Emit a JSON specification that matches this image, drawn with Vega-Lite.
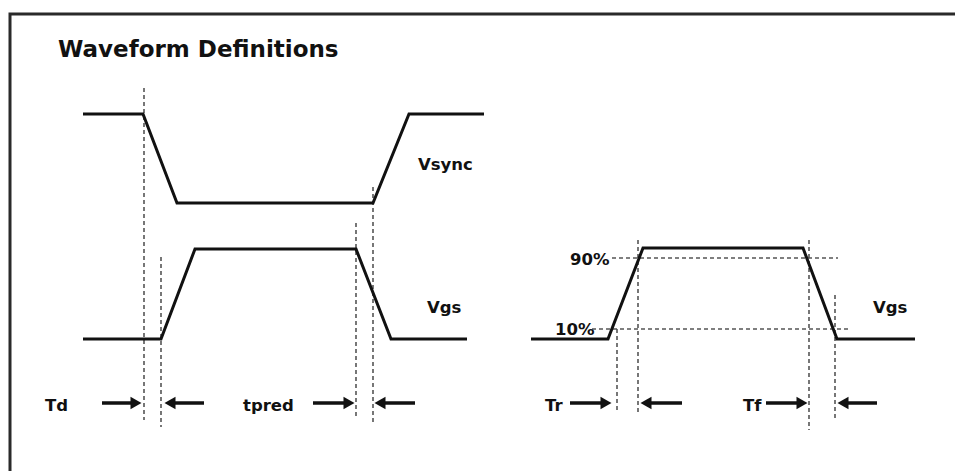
{
  "$schema": "https://vega.github.io/schema/vega-lite/v6.json",
  "width": 955,
  "height": 471,
  "autosize": {"type": "none"},
  "padding": 0,
  "background": "white",
  "config": {"view": {"stroke": null}},
  "datasets": {
    "border": [
      {"x": 10, "y": 475, "i": 0},
      {"x": 10, "y": 14, "i": 1},
      {"x": 960, "y": 14, "i": 2}
    ],
    "waves": [
      {"wave": "Vsync", "i": 0, "x": 83, "y": 114},
      {"wave": "Vsync", "i": 1, "x": 143, "y": 114},
      {"wave": "Vsync", "i": 2, "x": 177, "y": 203},
      {"wave": "Vsync", "i": 3, "x": 373, "y": 203},
      {"wave": "Vsync", "i": 4, "x": 409, "y": 114},
      {"wave": "Vsync", "i": 5, "x": 484, "y": 114},
      {"wave": "Vgs1", "i": 0, "x": 83, "y": 339},
      {"wave": "Vgs1", "i": 1, "x": 161, "y": 339},
      {"wave": "Vgs1", "i": 2, "x": 195, "y": 249},
      {"wave": "Vgs1", "i": 3, "x": 356, "y": 249},
      {"wave": "Vgs1", "i": 4, "x": 391, "y": 339},
      {"wave": "Vgs1", "i": 5, "x": 467, "y": 339},
      {"wave": "Vgs2", "i": 0, "x": 531, "y": 339},
      {"wave": "Vgs2", "i": 1, "x": 608, "y": 339},
      {"wave": "Vgs2", "i": 2, "x": 643, "y": 248},
      {"wave": "Vgs2", "i": 3, "x": 803, "y": 248},
      {"wave": "Vgs2", "i": 4, "x": 837, "y": 339},
      {"wave": "Vgs2", "i": 5, "x": 915, "y": 339}
    ],
    "dashes": [
      {"x": 144, "x2": 144, "y": 88, "y2": 420},
      {"x": 161, "x2": 161, "y": 257, "y2": 427},
      {"x": 356, "x2": 356, "y": 223, "y2": 418},
      {"x": 373, "x2": 373, "y": 187, "y2": 424},
      {"x": 617, "x2": 617, "y": 329, "y2": 413},
      {"x": 638, "x2": 638, "y": 240, "y2": 413},
      {"x": 809, "x2": 809, "y": 240, "y2": 430},
      {"x": 835, "x2": 835, "y": 295, "y2": 419},
      {"x": 612, "x2": 838, "y": 258, "y2": 258},
      {"x": 592, "x2": 850, "y": 329, "y2": 329}
    ],
    "arrows": [
      {"x": 102, "xh": 136, "y": 403, "dir": "right"},
      {"x": 204, "xh": 170, "y": 403, "dir": "left"},
      {"x": 313, "xh": 349, "y": 403, "dir": "right"},
      {"x": 415, "xh": 380, "y": 403, "dir": "left"},
      {"x": 570, "xh": 606, "y": 403, "dir": "right"},
      {"x": 682, "xh": 646, "y": 403, "dir": "left"},
      {"x": 766, "xh": 802, "y": 403, "dir": "right"},
      {"x": 877, "xh": 843, "y": 403, "dir": "left"}
    ],
    "labels": [
      {"label": "Vsync", "x": 418, "y": 170},
      {"label": "Vgs", "x": 427, "y": 313},
      {"label": "Td", "x": 45, "y": 411},
      {"label": "tpred", "x": 243, "y": 411},
      {"label": "90%", "x": 570, "y": 265},
      {"label": "10%", "x": 555, "y": 335},
      {"label": "Vgs", "x": 873, "y": 313},
      {"label": "Tr", "x": 545, "y": 411},
      {"label": "Tf", "x": 743, "y": 411}
    ],
    "title": [
      {"label": "Waveform Definitions", "x": 58, "y": 57}
    ]
  },
  "encoding": {
    "x": {"field": "x", "type": "quantitative", "scale": {"domain": [0, 955], "nice": false, "zero": false}, "axis": null},
    "y": {"field": "y", "type": "quantitative", "scale": {"domain": [0, 471], "nice": false, "zero": false, "reverse": true}, "axis": null}
  },
  "layer": [
    {
      "data": {"name": "border"},
      "mark": {"type": "line", "color": "#2a2a2a", "strokeWidth": 3, "clip": false},
      "encoding": {"order": {"field": "i", "type": "quantitative"}}
    },
    {
      "data": {"name": "dashes"},
      "mark": {"type": "rule", "color": "#555555", "strokeWidth": 1.6, "strokeDash": [4, 3]},
      "encoding": {
        "x2": {"field": "x2"},
        "y2": {"field": "y2"}
      }
    },
    {
      "data": {"name": "waves"},
      "mark": {"type": "line", "color": "#111111", "strokeWidth": 3, "strokeJoin": "miter"},
      "encoding": {
        "detail": {"field": "wave", "type": "nominal"},
        "order": {"field": "i", "type": "quantitative"}
      }
    },
    {
      "data": {"name": "arrows"},
      "mark": {"type": "rule", "color": "#111111", "strokeWidth": 3.5},
      "encoding": {"x2": {"field": "xh"}}
    },
    {
      "data": {"name": "arrows"},
      "mark": {"type": "point", "filled": true, "color": "#111111", "size": 160, "opacity": 1},
      "encoding": {
        "x": {"field": "xh", "type": "quantitative"},
        "shape": {"field": "dir", "type": "nominal", "scale": {"domain": ["right", "left"], "range": ["triangle-right", "triangle-left"]}, "legend": null}
      }
    },
    {
      "data": {"name": "labels"},
      "mark": {"type": "text", "align": "left", "baseline": "alphabetic", "font": "DejaVu Sans", "fontWeight": "bold", "fontSize": 16.5, "color": "#111111"},
      "encoding": {"text": {"field": "label"}}
    },
    {
      "data": {"name": "title"},
      "mark": {"type": "text", "align": "left", "baseline": "alphabetic", "font": "DejaVu Sans", "fontWeight": "bold", "fontSize": 23, "color": "#111111"},
      "encoding": {"text": {"field": "label"}}
    }
  ]
}
